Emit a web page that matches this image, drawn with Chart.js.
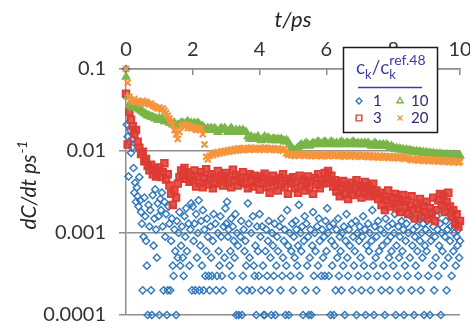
<!DOCTYPE html>
<html>
<head>
<meta charset="utf-8">
<script src="https://cdn.jsdelivr.net/npm/chart.js@4.4.1/dist/chart.umd.min.js"></script>
<style>
  body { margin: 0; background: #fff; }
  canvas { display: block; }
</style>
</head>
<body>
<canvas id="rateChart" width="470" height="324"></canvas>
<script>
// sampling interval of each trajectory (ps)
var bandStep = 0.05;
var blueStep = 0.025;

var xTicks = [0, 2, 4, 6, 8, 10];
var yTicks = [0.0001, 0.001, 0.01, 0.1];
var yTickLabels = ['0.0001', '0.001', '0.01', '0.1'];
var seriesNames = ['1', '3', '10', '20'];

// c_k / c_k(ref) = 1
var rate1 = [
  0.1, 0.021, 0.015, 0.0049, 0.013, 0.018, 0.0095, 0.011, 0.014, 0.0062, 0.0031, 0.0041, 0.0024, 0.0036, 0.0028, 0.0021, 0.0048, 0.0025, 0.0018, 0.0013,
  0.0002, 0.0009, 0.0027, 0.0016, 0.0008, 0.0004, 0.0001, 0.0022, 0.0012, 0.0019, 0.0002, 0.0001, 0.0029, 0.0007, 0.0015, 0.0034, 0.0011, 0.0005, 0.0023, 0.0016,
  0.0001, 0.0026, 0.0019, 0.0031, 0.0012, 0.0002, 0.0024, 0.0009, 0.0017, 0.0001, 0.0002, 0.0021, 0.0013, 0.0002, 0.0008, 0.0015, 0.0004, 0.0003, 0.0011, 0.0006,
  0.0001, 0.0014, 0.0005, 0.0010, 0.0018, 0.0004, 0.0007, 0.0012, 0.0005, 0.0003, 0.0016, 0.0009, 0.0020, 0.0006, null, 0.0013, 0.0004, 0.0011, 0.0023, 0.0002,
  0.0021, 0.0008, 0.0013, 0.0002, 0.0017, 0.0005, 0.0010, 0.0025, 0.0002, 0.0007, 0.0014, 0.0004, 0.0019, 0.0002, 0.0011, 0.0003, 0.0006, 0.0015, 0.0009, 0.0003,
  0.0002, 0.0012, 0.0005, 0.0003, 0.0008, 0.0017, null, 0.0013, 0.0002, 0.0003, 0.0010, 0.0006, 0.0004, 0.0016, 0.0009, 0.0003, 0.0002, 0.0012, 0.0005, 0.0020,
  0.0013, 0.0024, 0.0009, 0.0011, 0.0004, 0.0006, 0.0015, 0.0003, 0.0012, 0.0008, 0.0005, 0.0017, 0.0001, 0.0010, 0.0007, 0.0001, 0.0002, 0.0009, 0.0014, 0.0001,
  0.0003, 0.0011, 0.0006, 0.0008, 0.0004, 0.0002, 0.0023, 0.0013, 0.0005, null, 0.0010, 0.0002, 0.0016, 0.0004, 0.0003, 0.0007, 0.0001, 0.0012, 0.0006, 0.0003,
  0.0017, 0.0009, 0.0002, 0.0012, 0.0004, 0.0001, 0.0001, 0.0006, 0.0011, 0.0003, 0.0008, 0.0014, 0.0002, 0.0005, 0.0001, 0.0010, 0.0007, 0.0003, 0.0013, 0.0001,
  0.0004, 0.0009, 0.0006, null, 0.0012, 0.0002, 0.0015, 0.0003, 0.0005, 0.0008, 0.0011, 0.0001, 0.0004, 0.0019, 0.0007, 0.0001, 0.0010, 0.0003, 0.0006, 0.0013,
  0.0002, 0.0009, 0.0005, 0.0014, 0.0011, 0.0004, 0.0007, 0.0022, 0.0003, 0.0010, 0.0006, 0.0012, 0.0001, 0.0008, 0.0016, 0.0002, 0.0013, 0.0004, 0.0009, 0.0001,
  0.0005, 0.0011, 0.0001, 0.0007, 0.0018, 0.0003, 0.0010, 0.0006, 0.0002, 0.0012, 0.0004, 0.0015, 0.0008, null, 0.0003, 0.0011, 0.0005, 0.0009, 0.0003, 0.0014,
  0.0006, 0.0020, 0.0010, 0.0003, 0.0012, 0.0001, 0.0008, 0.0004, 0.0013, 0.0001, 0.0007, 0.0002, 0.0011, 0.0005, 0.0015, 0.0003, 0.0009, 0.0006, 0.0002, 0.0010,
  0.0004, 0.0012, 0.0001, 0.0008, 0.0017, 0.0005, 0.0003, 0.0011, 0.0007, null, 0.0013, 0.0002, 0.0009, 0.0004, 0.0006, 0.0014, 0.0001, 0.0010, 0.0003, 0.0008,
  0.0012, 0.0005, 0.0002, 0.0009, 0.0016, 0.0004, 0.0011, 0.0001, 0.0007, 0.0003, 0.0013, 0.0006, 0.0010, 0.0002, 0.0008, 0.0019, 0.0004, 0.0001, 0.0012, 0.0005,
  0.0009, 0.0003, 0.0014, 0.0006, null, 0.0011, 0.0002, 0.0007, 0.0004, 0.0010, 0.0001, 0.0015, 0.0003, 0.0008, 0.0012, 0.0005, 0.0002, 0.0009, 0.0006, 0.0013,
  0.0004, 0.0010, 0.0017, 0.0001, 0.0007, 0.0003, 0.0012, 0.0005, 0.0009, 0.0002, 0.0014, 0.0006, 0.0011, 0.0001, 0.0004, 0.0008, 0.0013, 0.0003, 0.0010, null,
  0.0005, 0.0016, 0.0002, 0.0007, 0.0011, 0.0001, 0.0009, 0.0004, 0.0012, 0.0006, 0.0003, 0.0015, 0.0008, 0.0002, 0.0010, 0.0005, 0.0013, 0.0001, 0.0007, 0.0011,
  0.0006, 0.0014, 0.0003, 0.0010, 0.0001, 0.0008, 0.0018, 0.0004, 0.0012, 0.0002, 0.0009, 0.0005, 0.0016, 0.0011, 0.0003, 0.0007, 0.0013, 0.0001, 0.0010, 0.0006,
  0.0020, 0.0004, 0.0009, 0.0014, 0.0002, 0.0011, 0.0005, 0.0017, 0.0008, 0.0012, 0.0003, 0.0015, 0.0006, 0.0010, 0.0013, 0.0004, 0.0009, 0.0007, 0.0011, 0.0005,
  0.0008
];

// c_k / c_k(ref) = 3
var rate3 = [
  0.050, 0.012, 0.030, 0.024, 0.020, 0.016, 0.018, 0.013, 0.011, 0.0092, 0.0098, 0.0075, 0.0080, 0.0066, 0.0058, 0.0068, 0.0052, 0.0061, 0.0049, 0.0057,
  0.0063, 0.0048, 0.0055, 0.0071, 0.0045, 0.0052, 0.0038, 0.0030, 0.0022, 0.0033, 0.0027, 0.0040, 0.0048, 0.0058, 0.0051, 0.0062, 0.0046, 0.0055, 0.0042, 0.0050,
  0.0044, 0.0058, 0.0037, 0.0049, 0.0041, 0.0055, 0.0036, 0.0047, 0.0060, 0.0039, 0.0045, 0.0052, 0.0035, 0.0048, 0.0040, 0.0057, 0.0043, 0.0050, 0.0038, 0.0046,
  0.0054, 0.0041, 0.0049, 0.0036, 0.0059, 0.0044, 0.0051, 0.0038, 0.0047, 0.0042, 0.0055, 0.0040, 0.0048, 0.0035, 0.0052, 0.0043, 0.0037, 0.0050, 0.0041, 0.0046,
  0.0034, 0.0049, 0.0040, 0.0053, 0.0036, 0.0045, 0.0031, 0.0042, 0.0050, 0.0038, 0.0044, 0.0033, 0.0047, 0.0039, 0.0052, 0.0036, 0.0043, 0.0030, 0.0046, 0.0040,
  0.0048, 0.0035, 0.0042, 0.0031, 0.0050, 0.0038, 0.0045, 0.0033, 0.0041, 0.0049, 0.0036, 0.0043, 0.0030, 0.0047, 0.0039, 0.0052, 0.0035, 0.0044, 0.0040, 0.0054,
  0.0046, 0.0057, 0.0041, 0.0050, 0.0037, 0.0044, 0.0032, 0.0040, 0.0028, 0.0036, 0.0043, 0.0030, 0.0038, 0.0026, 0.0034, 0.0041, 0.0029, 0.0036, 0.0044, 0.0031,
  0.0038, 0.0027, 0.0035, 0.0042, 0.0030, 0.0037, 0.0028, 0.0034, 0.0040, 0.0029, 0.0033, 0.0026, 0.0031, 0.0022, 0.0028, 0.0019, 0.0025, 0.0033, 0.0021, 0.0027,
  0.0023, 0.0030, 0.0020, 0.0026, 0.0018, 0.0024, 0.0029, 0.0021, 0.0025, 0.0017, 0.0022, 0.0028, 0.0019, 0.0015, 0.0023, 0.0020, 0.0026, 0.0016, 0.0021, 0.0018,
  0.0024, 0.0015, 0.0020, 0.0017, 0.0027, 0.0014, 0.0019, 0.0025, 0.0030, 0.0022, 0.0028, 0.0018, 0.0024, 0.0031, 0.0021, 0.0016, 0.0019, 0.0013, 0.0017, 0.0012,
  0.0014
];

// c_k / c_k(ref) = 10
var rate10 = [
  0.080, 0.046, 0.037, 0.035, 0.034, 0.035, 0.033, 0.034, 0.032, 0.031, 0.030, 0.029, 0.028, 0.027, 0.027, 0.026, 0.026, 0.025, 0.025, 0.024,
  0.025, 0.024, 0.025, 0.023, 0.024, 0.023, 0.022, 0.022, 0.021, 0.022, 0.020, 0.021, 0.021, 0.022, 0.022, 0.021, 0.022, 0.023, 0.021, 0.022,
  0.021, 0.022, 0.021, 0.022, 0.021, 0.020, 0.020, 0.019, 0.018, 0.019, 0.018, 0.019, 0.018, 0.019, 0.018, 0.017, 0.018, 0.019, 0.018, 0.019,
  0.018, 0.017, 0.018, 0.019, 0.018, 0.017, 0.018, 0.017, 0.018, 0.017, 0.018, 0.017, 0.017, 0.015, 0.014, 0.015, 0.014, 0.0145, 0.014, 0.015,
  0.014, 0.0135, 0.014, 0.015, 0.014, 0.0145, 0.014, 0.0135, 0.014, 0.014, 0.0135, 0.014, 0.0135, 0.014, 0.0135, 0.013, 0.0135, 0.013, 0.012, 0.011,
  0.0105, 0.010, 0.0105, 0.011, 0.0115, 0.012, 0.0115, 0.012, 0.0125, 0.012, 0.0115, 0.012, 0.0125, 0.012, 0.0125, 0.013, 0.0125, 0.012, 0.0125, 0.013,
  0.0125, 0.012, 0.0125, 0.013, 0.0125, 0.012, 0.0125, 0.012, 0.0125, 0.013, 0.0125, 0.012, 0.0125, 0.0125, 0.012, 0.0125, 0.013, 0.0125, 0.012, 0.0125,
  0.012, 0.0125, 0.012, 0.0125, 0.012, 0.0125, 0.012, 0.0115, 0.012, 0.0125, 0.012, 0.0115, 0.012, 0.0115, 0.012, 0.0115, 0.012, 0.0115, 0.011, 0.0115,
  0.0110, 0.0106, 0.0108, 0.0104, 0.0107, 0.0103, 0.0105, 0.0101, 0.0104, 0.0100, 0.0102, 0.0099, 0.0100, 0.0097, 0.0099, 0.0096, 0.0098, 0.0095, 0.0097, 0.0094,
  0.0096, 0.0093, 0.0095, 0.0092, 0.0094, 0.0091, 0.0093, 0.0090, 0.0092, 0.0090, 0.0091, 0.0089, 0.0091, 0.0088, 0.0090, 0.0088, 0.0090, 0.0087, 0.0089, 0.0087,
  0.0088
];

// c_k / c_k(ref) = 20
var rate20 = [
  0.100, 0.068, 0.046, 0.042, 0.040, 0.043, 0.039, 0.041, 0.040, 0.038, 0.041, 0.039, 0.040, 0.038, 0.037, 0.038, 0.036, 0.035, 0.034, 0.033,
  0.034, 0.032, 0.033, 0.031, 0.029, 0.027, 0.025, 0.023, 0.021, 0.018, 0.016, 0.014, 0.017, 0.020, 0.021, 0.020, 0.021, 0.019, 0.020, 0.019,
  0.020, 0.019, 0.018, 0.019, 0.018, 0.019, 0.016, 0.012, 0.0085, 0.0079, 0.0087, 0.0093, 0.0089, 0.0095, 0.0091, 0.0097, 0.0093, 0.0099, 0.0095, 0.0100,
  0.0097, 0.0102, 0.0098, 0.0104, 0.0100, 0.0106, 0.0101, 0.0108, 0.0103, 0.0107, 0.0102, 0.0109, 0.0104, 0.0108, 0.0103, 0.0110, 0.0105, 0.0109, 0.0104, 0.0108,
  0.0103, 0.0109, 0.0104, 0.0110, 0.0105, 0.0108, 0.0103, 0.0109, 0.0104, 0.0107, 0.0102, 0.0108, 0.0103, 0.0106, 0.0101, 0.0105, 0.0094, 0.0090, 0.0092, 0.0088,
  0.0091, 0.0087, 0.0092, 0.0088, 0.0093, 0.0089, 0.0091, 0.0087, 0.0092, 0.0088, 0.0090, 0.0086, 0.0091, 0.0087, 0.0092, 0.0088, 0.0090, 0.0086, 0.0091, 0.0087,
  0.0090, 0.0086, 0.0091, 0.0088, 0.0092, 0.0087, 0.0090, 0.0086, 0.0091, 0.0087, 0.0089, 0.0085, 0.0090, 0.0087, 0.0091, 0.0086, 0.0089, 0.0085, 0.0090, 0.0086,
  0.0089, 0.0085, 0.0090, 0.0086, 0.0088, 0.0084, 0.0089, 0.0085, 0.0088, 0.0084, 0.0087, 0.0083, 0.0088, 0.0084, 0.0087, 0.0083, 0.0086, 0.0082, 0.0087, 0.0083,
  0.0086, 0.0082, 0.0085, 0.0081, 0.0086, 0.0082, 0.0084, 0.0080, 0.0085, 0.0081, 0.0080, 0.0077, 0.0081, 0.0078, 0.0080, 0.0076, 0.0079, 0.0077, 0.0080, 0.0076,
  0.0079, 0.0075, 0.0078, 0.0076, 0.0079, 0.0075, 0.0077, 0.0074, 0.0078, 0.0075, 0.0077, 0.0074, 0.0076, 0.0073, 0.0077, 0.0074, 0.0076, 0.0073, 0.0075, 0.0072,
  0.0074
];

var gridColor = '#8e8e8e';
var colors = ['#2f78bd', '#dd3b33', '#79b547', '#f5953d'];
var fills = ['rgba(255,255,255,0)', 'rgba(221,59,51,0.85)', 'rgba(121,181,71,0.8)', 'rgba(245,149,61,0)'];

function toPoints(values, step) {
  return values.map(function(v, i) { return { x: i * step, y: v }; });
}

function series(idx, values, step, style, radius, width, order) {
  return {
    label: seriesNames[idx],
    data: toPoints(values, step),
    pointStyle: style,
    pointRadius: radius,
    pointBorderWidth: width,
    pointBorderColor: colors[idx],
    pointBackgroundColor: fills[idx],
    borderColor: colors[idx],
    backgroundColor: fills[idx],
    order: order,
    clip: 8
  };
}

function drawRun(ctx, parts, x, y) {
  parts.forEach(function(p) {
    ctx.font = p.font;
    ctx.fillText(p.text, x, y + (p.dy || 0));
    if (!p.stack) x += ctx.measureText(p.text).width;
  });
  return x;
}

var extras = {
  id: 'extras',
  afterDraw: function(chart) {
    var ctx = chart.ctx;
    ctx.save();

    // y axis title with superscript
    ctx.fillStyle = '#262626';
    ctx.textBaseline = 'alphabetic';
    ctx.font = 'italic 21px Lato';
    var mainW = ctx.measureText('dC/dt ps').width;
    ctx.font = 'italic 14px Lato';
    var supW = ctx.measureText('-1').width;
    ctx.translate(36, 185);
    ctx.rotate(-Math.PI / 2);
    var sx = -(mainW + supW + 1) / 2;
    ctx.font = 'italic 21px Lato';
    ctx.fillText('dC/dt ps', sx, 0);
    ctx.font = 'italic 14px Lato';
    ctx.fillText('-1', sx + mainW + 1, -9);
    ctx.restore();

    // legend box
    ctx.save();
    ctx.fillStyle = '#ffffff';
    ctx.fillRect(343.5, 47.5, 94, 85);
    ctx.strokeStyle = '#1a1a1a';
    ctx.lineWidth = 1.5;
    ctx.strokeRect(343.5, 47.5, 94, 85);

    ctx.fillStyle = '#3c3ca4';
    ctx.textBaseline = 'alphabetic';
    var big = '19px Lato', small = '13px Lato';
    var x = drawRun(ctx, [
      { text: 'c', font: big },
      { text: 'k', font: small, dy: 5 },
      { text: '/', font: big },
      { text: 'c', font: big }
    ], 356, 74);
    drawRun(ctx, [
      { text: 'k', font: small, dy: 5, stack: true },
      { text: 'ref.48', font: '14px Lato', dy: -9 }
    ], x, 74);

    ctx.strokeStyle = '#3c3ca4';
    ctx.lineWidth = 1.5;
    ctx.beginPath();
    ctx.moveTo(358, 87.5);
    ctx.lineTo(422, 87.5);
    ctx.stroke();

    var slots = [
      { mx: 359, my: 101, tx: 373, ty: 106 },
      { mx: 359, my: 118, tx: 373, ty: 123 },
      { mx: 400, my: 101, tx: 411, ty: 106 },
      { mx: 400, my: 118, tx: 411, ty: 123 }
    ];
    var legendRadius = [3, 4, 3.5, 3.5];
    chart.data.datasets.forEach(function(ds, i) {
      var s = slots[i];
      ctx.strokeStyle = colors[i];
      ctx.fillStyle = 'rgba(255,255,255,0)';
      ctx.lineWidth = 1.4;
      Chart.helpers.drawPoint(ctx, { pointStyle: ds.pointStyle, rotation: 0, radius: legendRadius[i], borderWidth: 1.4 }, s.mx, s.my);
      ctx.fillStyle = '#2b2b72';
      ctx.font = '15px Lato';
      ctx.fillText(ds.label, s.tx, s.ty);
    });
    ctx.restore();
  }
};

var ctx = document.getElementById('rateChart').getContext('2d');
var rateChart = new Chart(ctx, {
  type: 'scatter',
  data: {
    datasets: [
      series(0, rate1, blueStep, 'rectRot', 3.6, 1.4, 3),
      series(1, rate3, bandStep, 'rect', 4.7, 1.8, 2),
      series(2, rate10, bandStep, 'triangle', 3.9, 1.8, 1),
      series(3, rate20, bandStep, 'crossRot', 4.2, 2.2, 0)
    ]
  },
  options: {
    responsive: false,
    animation: false,
    layout: { padding: { left: 0, right: 10, top: 0, bottom: 9 } },
    plugins: {
      legend: { display: false },
      tooltip: { enabled: false }
    },
    scales: {
      x: {
        type: 'linear',
        position: 'top',
        min: 0,
        max: 10,
        afterBuildTicks: function(s) { s.ticks = xTicks.map(function(v) { return { value: v }; }); },
        afterFit: function(s) { s.height = 69; s.paddingLeft = 0; s.paddingRight = 0; },
        grid: { drawOnChartArea: false, drawTicks: true, tickLength: -6, color: gridColor, lineWidth: 1.5 },
        border: { display: true, color: gridColor, width: 1.5 },
        ticks: { color: '#333', padding: 13, maxRotation: 0, font: { family: 'Lato', size: 20 } },
        title: {
          display: true,
          text: 't/ps',
          color: '#262626',
          padding: { top: 7, bottom: 0 },
          font: { family: 'Lato', size: 22, style: 'italic' }
        }
      },
      y: {
        type: 'logarithmic',
        min: 0.0001,
        max: 0.1,
        afterBuildTicks: function(s) { s.ticks = yTicks.map(function(v) { return { value: v }; }); },
        afterFit: function(s) { s.width = 126; s.paddingTop = 0; s.paddingBottom = 0; },
        grid: { color: gridColor, lineWidth: 1.5, tickLength: 7 },
        border: { display: true, color: gridColor, width: 1.5 },
        ticks: {
          color: '#333',
          padding: 13,
          font: { family: 'Lato', size: 20 },
          callback: function(v, i) { return yTickLabels[i]; }
        }
      }
    }
  },
  plugins: [extras]
});
</script>
</body>
</html>
